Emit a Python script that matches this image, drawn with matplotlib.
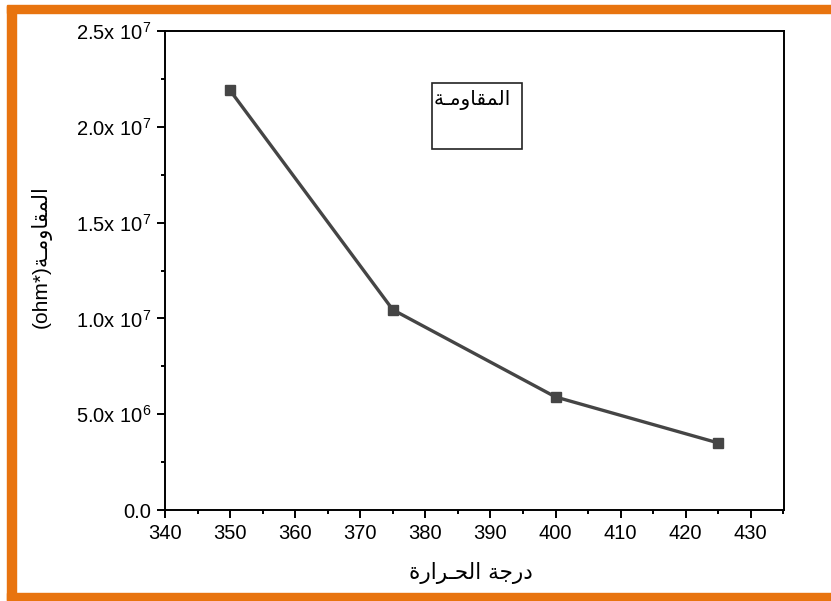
import matplotlib
matplotlib.use("Agg")
import matplotlib.pyplot as plt
from matplotlib.patches import Rectangle
from matplotlib.ticker import FixedLocator, MultipleLocator

# Temperature vs. resistance
temperature = [350, 375, 400, 425]
resistance = [2.19e7, 1.045e7, 5.9e6, 3.5e6]

x_ticks = [340, 350, 360, 370, 380, 390, 400, 410, 420, 430]
y_ticks = [0, 5e6, 1e7, 1.5e7, 2e7, 2.5e7]
y_tick_labels = ["0.0", r"5.0x 10$^{6}$", r"1.0x 10$^{7}$", r"1.5x 10$^{7}$",
                 r"2.0x 10$^{7}$", r"2.5x 10$^{7}$"]

# Arabic strings in shaped presentation forms, visual (left-to-right) order
series_name = "\uFE94\u0640\uFEE3\uFEED\uFE8E\uFED8\uFEE4\uFEDF\uFE8D"      # المقاومـة
x_label = ("\uFE93\uFEAD\uFE8D\uFEAE\u0640\uFEA4\uFEDF\uFE8D "
           "\uFE94\uFE9F\uFEAD\uFEA9")                                      # درجة الحـرارة
y_label = "(ohm*)" + series_name

plt.rcParams["font.family"] = ["Liberation Sans", "DejaVu Sans"]
plt.rcParams["mathtext.fontset"] = "custom"
plt.rcParams["mathtext.rm"] = "Liberation Sans"
plt.rcParams["mathtext.it"] = "Liberation Sans"

fig = plt.figure(figsize=(8.31, 6.01), dpi=100)

# orange frame around the figure
W, H = 831, 601
frame_color = "#E8740F"
fig.patches.append(Rectangle((7 / W, 1 - 13 / H), 1, 8 / H, transform=fig.transFigure,
                             color=frame_color, zorder=0))
fig.patches.append(Rectangle((7 / W, 1 - 601 / H), 9 / W, (601 - 5 - 1) / H,
                             transform=fig.transFigure, color=frame_color, zorder=0))
fig.patches.append(Rectangle((7 / W, 1 - 600 / H), 1, 7 / H, transform=fig.transFigure,
                             color=frame_color, zorder=0))

ax = fig.add_axes([165 / W, 1 - 510 / H, (784 - 165) / W, (510 - 31) / H])

ax.plot(temperature, resistance, color="#454545", linewidth=2.4,
        marker="s", markersize=7.5, markerfacecolor="#454545",
        markeredgecolor="#454545")

ax.set_xlim(340, 435.1)
ax.set_ylim(0, 2.5e7)

ax.xaxis.set_major_locator(FixedLocator(x_ticks))
ax.xaxis.set_minor_locator(MultipleLocator(5))
ax.set_xticklabels([str(v) for v in x_ticks])
ax.yaxis.set_major_locator(FixedLocator(y_ticks))
ax.yaxis.set_minor_locator(MultipleLocator(2.5e6))
ax.set_yticklabels(y_tick_labels)

ax.tick_params(axis="both", which="major", direction="out", length=6, width=1.4,
               labelsize=14.5, pad=4, colors="black")
ax.tick_params(axis="both", which="minor", direction="out", length=3, width=1.4)
for s in ax.spines.values():
    s.set_linewidth(1.4)
    s.set_color("black")

ax.set_xlabel(x_label, family=["DejaVu Sans"], fontsize=15.5)
ax.xaxis.set_label_coords((471 - 165) / 619, -(562 - 510) / 479)
ax.set_ylabel(y_label, family=["Liberation Sans", "DejaVu Sans"], fontsize=15)
ax.yaxis.set_label_coords(-(165 - 52) / 619, (510 - 257) / 479)

# legend-style text box
ax.add_patch(Rectangle(((432 - 165) / 619, (510 - 149) / 479), 90 / 619, 66 / 479,
                       transform=ax.transAxes, facecolor="white",
                       edgecolor="#222222", linewidth=1.2, zorder=5))
ax.text((511 - 165) / 619, (510 - 100) / 479, series_name, transform=ax.transAxes,
        family=["DejaVu Sans"], fontsize=14.5, ha="right", va="center", zorder=6)

fig.savefig("out.png", dpi=100)
